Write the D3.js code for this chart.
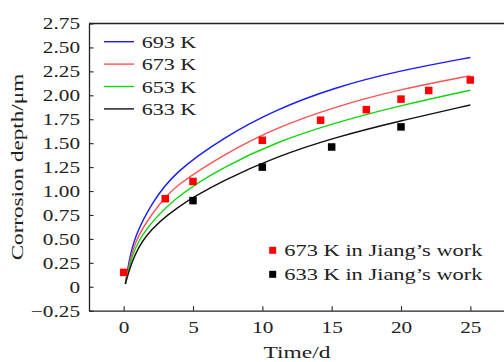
<!DOCTYPE html>
<html><head><meta charset="utf-8">
<script src="https://cdn.jsdelivr.net/npm/d3@7"></script>
<style>
html,body{margin:0;padding:0;background:#fff;}
text{font-family:"Liberation Serif","Times New Roman",serif;fill:#222;}
</style></head>
<body><svg id="c" width="504" height="362"></svg>
<script>
// ---- data ----
const seriesNames = ["693 K", "673 K", "653 K", "633 K"];
const t693 = [0.12, 0.35, 0.78, 2.0, 3.69, 7.30, 10.9, 15.23, 19.91, 25];
const v693 = [0.03, 0.245, 0.523, 0.872, 1.202, 1.568, 1.847, 2.084, 2.258, 2.395];
const t673 = [0.12, 0.4, 0.9, 2.59, 3.69, 7.30, 10.9, 15.23, 19.91, 25];
const v673 = [0.03, 0.245, 0.523, 0.872, 1.053, 1.39, 1.656, 1.881, 2.063, 2.205];
const t653 = [0.12, 0.45, 1.07, 3.69, 7.30, 10.9, 15.23, 19.91, 25];
const v653 = [0.03, 0.245, 0.523, 0.945, 1.26, 1.505, 1.714, 1.892, 2.053];
const t633 = [0.12, 0.54, 1.39, 3.69, 7.30, 10.9, 15.23, 19.91, 25];
const v633 = [0.03, 0.245, 0.523, 0.83, 1.12, 1.353, 1.561, 1.732, 1.899];
const jiangNames = ["673 K in Jiang’s work", "633 K in Jiang’s work"];
const j673T = [0, 3, 5, 10, 14.2, 17.5, 20, 22, 25];
const j673V = [0.15, 0.92, 1.10, 1.53, 1.74, 1.85, 1.96, 2.05, 2.16];
const j633T = [5, 10, 15, 20];
const j633V = [0.90, 1.25, 1.46, 1.67];
const xTicks = [0, 5, 10, 15, 20, 25];
const yTicks = [-0.25, 0, 0.25, 0.5, 0.75, 1.0, 1.25, 1.5, 1.75, 2.0, 2.25, 2.5, 2.75];
const yTickLabels = ["\u22120.25", "0", "0.25", "0.50", "0.75", "1.00", "1.25", "1.50", "1.75", "2.00", "2.25", "2.50", "2.75"];
const xTitle = "Time/d";
const yTitle = "Corrosion depth/μm";

// ---- style ----
const lineColors = ["#1a1aff", "#ff5252", "#10d810", "#111111"];
const markColors = ["#ff0000", "#000000"];
const L = 89, R = 505, T = 23.5, B = 310.7;
const FS = 17;

const svg = d3.select("#c");
svg.append("rect").attr("width", 504).attr("height", 362).attr("fill", "#fff");

const x = d3.scaleLinear().domain([-2.5, 27.5]).range([L, R]);
const y = d3.scaleLinear().domain([-0.25, 2.75]).range([B, T]);

function stretch(sel, f) {
  sel.each(function () {
    const w = this.getComputedTextLength();
    d3.select(this).attr("textLength", w * f).attr("lengthAdjust", "spacingAndGlyphs");
  });
}

// curves
svg.append("clipPath").attr("id", "clp").append("rect")
  .attr("x", L).attr("y", T).attr("width", R - L).attr("height", B - T);
const curves = [[t693, v693], [t673, v673], [t653, v653], [t633, v633]];
const line = d3.line().x(d => x(d[0])).y(d => y(d[1])).curve(d3.curveBasis);
const gC = svg.append("g").attr("clip-path", "url(#clp)");
curves.forEach((c, i) => {
  const pts = c[0].map((t, k) => [t, c[1][k]]);
  gC.append("path").datum(pts).attr("d", line).attr("fill", "none")
    .attr("stroke", lineColors[i]).attr("stroke-width", 1.4);
});

// markers
const marks = [[j673T, j673V], [j633T, j633V]];
const MS = 7.5;
marks.forEach((m, i) => {
  const pts = m[0].map((t, k) => [t, m[1][k]]);
  gC.selectAll(null).data(pts).enter().append("rect")
    .attr("x", d => x(d[0]) - MS / 2).attr("y", d => y(d[1]) - MS / 2)
    .attr("width", MS).attr("height", MS).attr("fill", markColors[i]);
});

// axes
const ax = svg.append("g").attr("transform", `translate(0,${B})`)
  .call(d3.axisBottom(x).tickValues(xTicks).tickSizeInner(-4.5).tickSizeOuter(0).tickPadding(10));
const ay = svg.append("g").attr("transform", `translate(${L},0)`)
  .call(d3.axisLeft(y).tickValues(yTicks).tickFormat((d, i) => yTickLabels[i]).tickSizeInner(-4.5).tickSizeOuter(0).tickPadding(9));
[ax, ay].forEach(a => {
  a.attr("font-family", null);
  a.select(".domain").attr("stroke", "#222").attr("stroke-width", 1.3);
  a.selectAll(".tick line").attr("stroke", "#222").attr("stroke-width", 1.1);
  a.selectAll("text").attr("font-size", FS).attr("fill", "#222")
    .style("font-family", '"Liberation Serif",serif');
});
ax.selectAll("text").attr("dy", "0.71em");
stretch(ax.selectAll(".tick text"), 1.25);
stretch(ay.selectAll(".tick text"), 1.25);
// top & right frame
svg.append("line").attr("x1", L).attr("x2", R).attr("y1", T).attr("y2", T).attr("stroke", "#222").attr("stroke-width", 1.3);
svg.append("line").attr("x1", R).attr("x2", R).attr("y1", T).attr("y2", B).attr("stroke", "#222").attr("stroke-width", 1.3);

// axis titles
const xt = svg.append("text").attr("x", (L + R) / 2).attr("y", 357.5).attr("text-anchor", "middle")
  .attr("font-size", FS).text(xTitle);
stretch(xt, 1.38);
const yt = svg.append("text").attr("transform", `translate(23,${(T + B) / 2}) rotate(-90)`)
  .attr("text-anchor", "middle").attr("font-size", FS).text(yTitle);
stretch(yt, 1.36);

// legend 1
const lg = svg.append("g");
seriesNames.forEach((n, i) => {
  const yy = 41.7 + i * 22.4;
  lg.append("line").attr("x1", 104).attr("x2", 134).attr("y1", yy).attr("y2", yy)
    .attr("stroke", lineColors[i]).attr("stroke-width", 1.4);
  const tx = lg.append("text").attr("x", 141.7).attr("y", yy + 6).attr("font-size", FS).text(n);
  stretch(tx, 1.3);
});
// legend 2
jiangNames.forEach((n, i) => {
  const yy = 250.3 + i * 24;
  lg.append("rect").attr("x", 272.7 - 3.5).attr("y", yy - 3.5).attr("width", 7).attr("height", 7)
    .attr("fill", markColors[i]);
  const tx = lg.append("text").attr("x", 284.3).attr("y", yy + 6).attr("font-size", FS).text(n);
  stretch(tx, 1.32);
});
</script></body></html>
